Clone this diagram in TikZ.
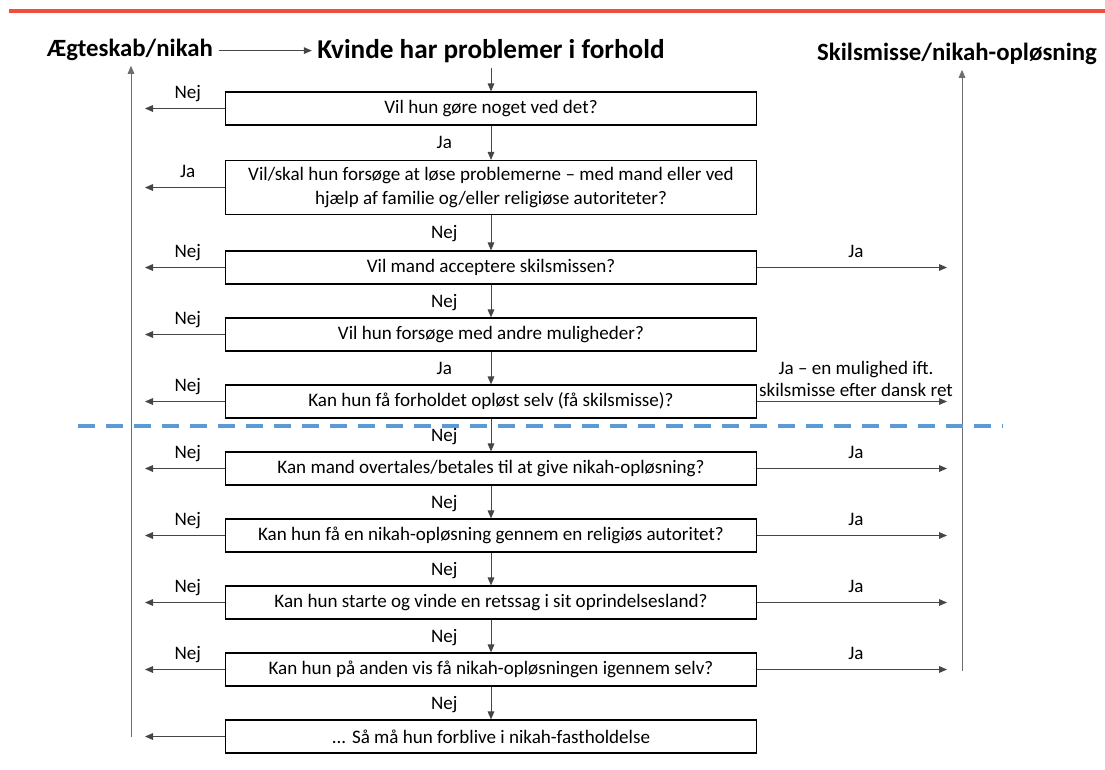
\documentclass[tikz,border=0pt]{standalone}
\usepackage{fontspec}
\setmainfont{Carlito}
\usetikzlibrary{arrows.meta}
\newcommand\boxColor{black}
\newcommand\boxLineWidth{0.9pt}
\newcommand\boxWidth{398pt}
\newcommand\boxHeight{24.75pt}
\newcommand\arrowLineWidth{0.7pt}
\newcommand\labelShift{-35pt}
\definecolor{arrowGray}{RGB}{70,70,70}
\definecolor{lineGray}{RGB}{110,110,110}
\definecolor{topRed}{RGB}{239,78,61}
\definecolor{splitBlue}{RGB}{91,155,213}
\tikzset{
    questionBox/.style={draw=\boxColor, line width=\boxLineWidth, shape=rectangle, minimum width=\boxWidth, minimum height=\boxHeight, inner sep=0pt, align=center, anchor=center, font=\fontsize{14.3}{18}\selectfont},
    titleText/.style={font=\fontsize{18.6}{22}\selectfont\bfseries, inner sep=4pt, anchor=base},
    flowArrow/.style={draw=arrowGray, line width=\arrowLineWidth, -{Triangle[length=6pt,width=5pt]}},
    longArrow/.style={draw=lineGray, line width=\arrowLineWidth, -{Triangle[length=6pt,width=5pt]}},
    answerText/.style={font=\fontsize{14.3}{16.5}\selectfont, inner sep=2pt},
    shortAnswer/.style={answerText, text height=10pt, text depth=3pt},
}

\begin{document}
\begin{tikzpicture}[x=0.75pt, y=-0.75pt]
    \useasboundingbox (0,0) rectangle (1105,769);

    \draw [draw=topRed, line width=2.6pt] (9,11) -- (1105,11);

%Titles
    \node [titleText] (Title_Left) at (130,56) {Ægteskab/nikah};
    \node [titleText, font=\fontsize{20.4}{22}\selectfont\bfseries] (Title_Main) at (491,58) {Kvinde har problemer i forhold};
    \node [titleText] (Title_Right) at (957,60) {Skilsmisse/nikah-opløsning};

%Questions
    \node [questionBox] (Box_1) at (491,108.5) {Vil hun gøre noget ved det?};
    \node [questionBox, minimum height=40.5pt] (Box_2) at (491,187.5) {Vil/skal hun forsøge at løse problemerne – med mand eller ved\\hjælp af familie og/eller religiøse autoriteter?};
    \node [questionBox] (Box_3) at (491,267.5) {Vil mand acceptere skilsmissen?};
    \node [questionBox] (Box_4) at (491,334.5) {Vil hun forsøge med andre muligheder?};
    \node [questionBox] (Box_5) at (491,401.5) {Kan hun få forholdet opløst selv (få skilsmisse)?};
    \node [questionBox] (Box_6) at (491,468.5) {Kan mand overtales/betales til at give nikah-opløsning?};
    \node [questionBox] (Box_7) at (491,535.5) {Kan hun få en nikah-opløsning gennem en religiøs autoritet?};
    \node [questionBox] (Box_8) at (491,602.5) {Kan hun starte og vinde en retssag i sit oprindelsesland?};
    \node [questionBox] (Box_9) at (491,669.5) {Kan hun på anden vis få nikah-opløsningen igennem selv?};
    \node [questionBox] (Box_10) at (491,736.5) {... Så må hun forblive i nikah-fastholdelse};

    \coordinate (Left_End) at (145,0);
    \coordinate (Right_End) at (947,0);
    \coordinate (Left_Bottom) at (131,737);
    \coordinate (Right_Bottom) at (962,671);

%Part Two
    \draw [flowArrow] (Title_Left.east |- Title_Main.west) -- (Title_Main.west);
    \draw [flowArrow] (Title_Main.south) -- (Box_1.north);
    \foreach \a/\b/\t in {1/2/Ja, 2/3/Nej, 3/4/Nej, 4/5/Ja, 5/6/Nej, 6/7/Nej, 7/8/Nej, 8/9/Nej, 9/10/Nej}{
        \draw [flowArrow] (Box_\a.south) -- (Box_\b.north) node [shortAnswer, midway, xshift=\labelShift, yshift=-1pt] {\t};
    }

%Part Three
    \foreach \i/\t in {1/Nej, 2/Ja, 3/Nej, 4/Nej, 5/Nej, 6/Nej, 7/Nej, 8/Nej, 9/Nej}{
        \draw [flowArrow] (Box_\i.west) -- (Box_\i.west -| Left_End) node [shortAnswer, midway, above=2pt, xshift=2pt] {\t};
    }
    \draw [flowArrow] (Box_10.west) -- (Box_10.west -| Left_End);

    \foreach \i in {3,6,7,8,9}{
        \draw [flowArrow] (Box_\i.east) -- (Box_\i.east -| Right_End) node [shortAnswer, midway, above=2pt, xshift=3pt] {Ja};
    }
    \draw [flowArrow] (Box_5.east) -- (Box_5.east -| Right_End) node [answerText, midway, above=1pt, align=center, xshift=3pt] {Ja – en mulighed ift.\\skilsmisse efter dansk ret};

%Part Four
    \draw [longArrow] (Left_Bottom) -- (Left_Bottom |- Title_Left.south);
    \draw [longArrow] (Right_Bottom) -- (Right_Bottom |- Title_Right.south);

    \draw [draw=splitBlue, line width=3pt, dash pattern=on 12.75pt off 8.25pt] (78,426) -- (1003,426);

\end{tikzpicture}
\end{document}
